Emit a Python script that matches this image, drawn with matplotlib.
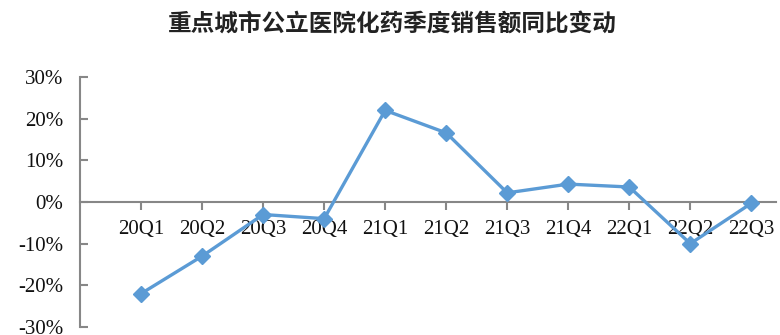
import matplotlib.pyplot as plt
from matplotlib.ticker import FuncFormatter

quarters = ['20Q1', '20Q2', '20Q3', '20Q4', '21Q1', '21Q2', '21Q3', '21Q4',
            '22Q1', '22Q2', '22Q3']
yoy = [-22.0, -13.0, -3.0, -4.0, 22.0, 16.6, 2.2, 4.3, 3.6, -10.0, -0.3]

fig = plt.figure(figsize=(7.8, 3.35), dpi=100)
ax = fig.add_axes([0.1026, 0.024, 0.892, 0.746])

x = list(range(len(quarters)))
ax.plot(x, yoy, color='#5B9BD5', lw=2.4, marker='D', ms=8,
        markeredgecolor='#5B9BD5', zorder=3)

ax.set_xlim(-1, 10.4)
ax.set_ylim(-30, 30)
ax.set_yticks([-30, -20, -10, 0, 10, 20, 30])
ax.yaxis.set_major_formatter(FuncFormatter(lambda v, p: f'{v:.0f}%'))
ax.set_xticks(x)
ax.set_xticklabels(quarters)

for s in ['top', 'right']:
    ax.spines[s].set_visible(False)
ax.spines['bottom'].set_position(('data', 0))
for s in ['left', 'bottom']:
    ax.spines[s].set_color('#878787')
    ax.spines[s].set_linewidth(1.5)

ax.tick_params(axis='y', direction='in', length=6, width=1.5, color='#878787',
               pad=12, labelsize=15)
ax.tick_params(axis='x', direction='out', length=6, width=1.5, color='#878787',
               pad=7, labelsize=15)
for lab in ax.get_xticklabels() + ax.get_yticklabels():
    lab.set_family('Liberation Serif')
    lab.set_color('#111111')

fig.text(0.503, 0.93, '重点城市公立医院化药季度销售额同比变动',
         ha='center', va='center', fontsize=17, fontweight='bold',
         family=['Noto Sans CJK SC', 'DejaVu Sans'], color='#222222')

fig.savefig('out.png', dpi=100)
